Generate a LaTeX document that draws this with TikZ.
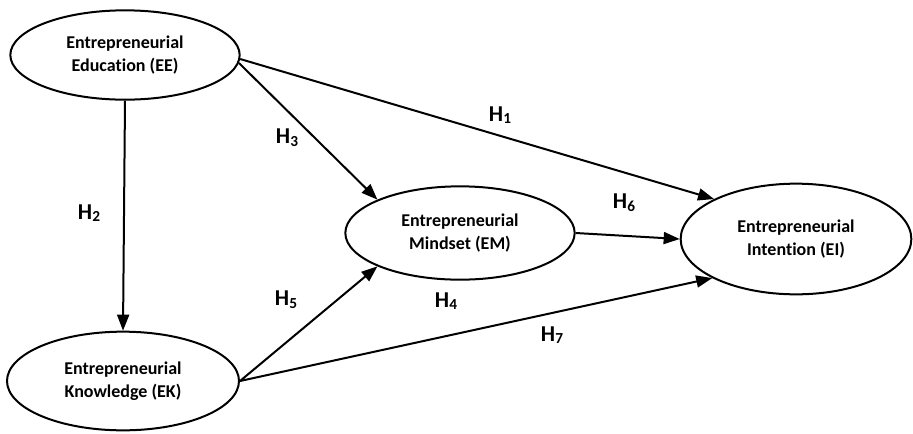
\documentclass[tikz,border=0pt]{standalone}
\usepackage{fontspec}
\setmainfont[Ligatures=CommonOff]{Carlito}
\usetikzlibrary{shapes.geometric,arrows.meta}
\tikzset{
  construct/.style={draw, ellipse, line width=1.5pt, inner sep=0pt, align=center,
    font=\bfseries\fontsize{13.5}{17}\selectfont},
  path/.style={line width=1.5pt, -{Triangle[length=12pt,width=9pt]}},
  hyp/.style={font=\bfseries\fontsize{17}{19}\selectfont, inner sep=0pt}
}
\newcommand{\hsub}[1]{H\raisebox{-2pt}{\fontsize{11.5}{12}\selectfont #1}}
\begin{document}
\begin{tikzpicture}[x=0.75pt, y=-0.75pt]
  \useasboundingbox (0,0) rectangle (913,433);
  \node[construct, minimum width=172pt, minimum height=67pt] (ee) at (125,55) {Entrepreneurial\\Education (EE)};
  \node[construct, minimum width=174pt, minimum height=74pt] (ek) at (123,381) {Entrepreneurial\\Knowledge (EK)};
  \node[construct, minimum width=172pt, minimum height=70pt] (em) at (460,233) {Entrepreneurial\\Mindset (EM)};
  \node[construct, minimum width=173pt, minimum height=83pt] (ei) at (796,239) {Entrepreneurial\\Intention (EI)};
  % hypotheses
  \draw[path] (ee.south) -- (ek.north);
  \draw[path] (ee.-2) -- (ei.154);
  \draw[path] (ee.-4) -- (em.158);
  \draw[path] (ek.east) -- (em.202);
  \draw[path] (ek.east) -- (ei.205);
  \draw[path] (em.east) -- (ei.west);
  \node[hyp] (h1) at (500,115) {\hsub{1}};
  \node[hyp] (h2) at (89,213) {\hsub{2}};
  \node[hyp] (h3) at (287,138) {\hsub{3}};
  \node[hyp] (h4) at (446,301) {\hsub{4}};
  \node[hyp] (h5) at (286,300) {\hsub{5}};
  \node[hyp] (h6) at (624,203) {\hsub{6}};
  \node[hyp] (h7) at (552,335) {\hsub{7}};
\end{tikzpicture}
\end{document}
